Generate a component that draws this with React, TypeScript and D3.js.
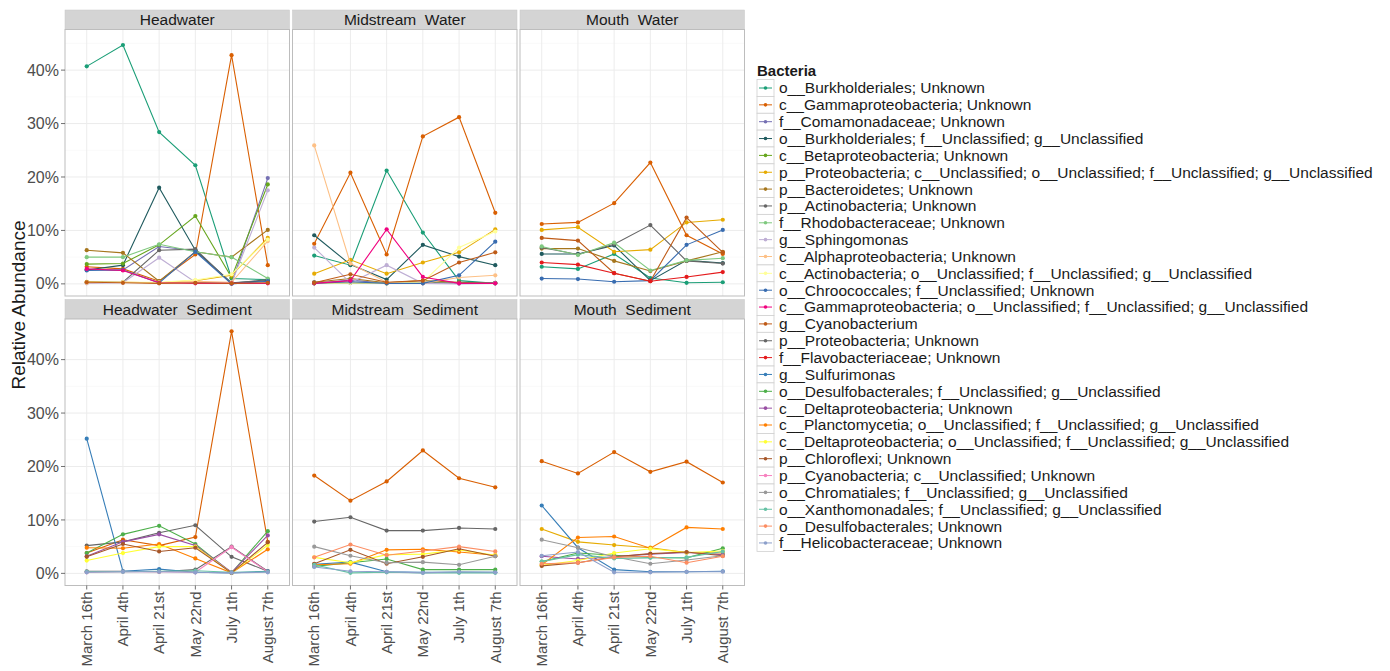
import React from "react";
import * as d3 from "d3";

const dates = ["March 16th", "April 4th", "April 21st", "May 22nd", "July 1th", "August 7th"];
const panelTitles = ["Headwater", "Midstream  Water", "Mouth  Water", "Headwater  Sediment", "Midstream  Sediment", "Mouth  Sediment"];
const yTicks = [0, 10, 20, 30, 40];

const seriesNames = [
  "o__Burkholderiales; Unknown",
  "c__Gammaproteobacteria; Unknown",
  "f__Comamonadaceae; Unknown",
  "o__Burkholderiales; f__Unclassified; g__Unclassified",
  "c__Betaproteobacteria; Unknown",
  "p__Proteobacteria; c__Unclassified; o__Unclassified; f__Unclassified; g__Unclassified",
  "p__Bacteroidetes; Unknown",
  "p__Actinobacteria; Unknown",
  "f__Rhodobacteraceae; Unknown",
  "g__Sphingomonas",
  "c__Alphaproteobacteria; Unknown",
  "c__Actinobacteria; o__Unclassified; f__Unclassified; g__Unclassified",
  "o__Chroococcales; f__Unclassified; Unknown",
  "c__Gammaproteobacteria; o__Unclassified; f__Unclassified; g__Unclassified",
  "g__Cyanobacterium",
  "p__Proteobacteria; Unknown",
  "f__Flavobacteriaceae; Unknown",
  "g__Sulfurimonas",
  "o__Desulfobacterales; f__Unclassified; g__Unclassified",
  "c__Deltaproteobacteria; Unknown",
  "c__Planctomycetia; o__Unclassified; f__Unclassified; g__Unclassified",
  "c__Deltaproteobacteria; o__Unclassified; f__Unclassified; g__Unclassified",
  "p__Chloroflexi; Unknown",
  "p__Cyanobacteria; c__Unclassified; Unknown",
  "o__Chromatiales; f__Unclassified; g__Unclassified",
  "o__Xanthomonadales; f__Unclassified; g__Unclassified",
  "o__Desulfobacterales; Unknown",
  "f__Helicobacteraceae; Unknown",
];

const seriesColors = [
  "#1b9e77", "#d95f02", "#7570b3", "#1f5a5e", "#66a61e", "#e6ab02", "#a6761d", "#666666",
  "#7fc97f", "#beaed4", "#fdc086", "#ffff99", "#386cb0", "#f0027f", "#bf5b17", "#666666",
  "#e41a1c", "#377eb8", "#4daf4a", "#984ea3", "#ff7f00", "#ffff33", "#a65628", "#f781bf",
  "#999999", "#66c2a5", "#fc8d62", "#8da0cb",
];

// [series index, values per date] (percent)
const headwater: [number, number[]][] = [
  [0, [40.7, 44.7, 28.4, 22.2, 1.0, 0.8]],
  [1, [3.2, 2.8, 0.5, 5.5, 42.8, 3.5]],
  [2, [2.7, 2.6, 7.0, 6.2, 0.1, 19.8]],
  [3, [2.6, 3.5, 18.0, 6.3, 0.2, 0.6]],
  [4, [3.7, 3.8, 7.3, 12.7, 1.2, 18.6]],
  [5, [0.4, 0.3, 0.2, 0.6, 1.6, 8.6]],
  [6, [6.3, 5.8, 0.5, 6.0, 5.0, 10.1]],
  [7, [0.3, 0.3, 6.3, 6.5, 0.1, 0.8]],
  [8, [5.0, 5.0, 7.4, 6.0, 5.0, 1.0]],
  [9, [0.1, 0.2, 4.9, 0.3, 0.1, 17.5]],
  [10, [0.2, 0.3, 0.2, 0.5, 0.3, 8.0]],
  [11, [0.3, 0.3, 0.3, 0.7, 1.8, 8.3]],
  [12, [2.5, 2.6, 0.2, 6.0, 0.0, 0.5]],
  [13, [2.8, 2.5, 0.2, 0.1, 0.1, 0.1]],
  [14, [0.3, 0.2, 0.1, 0.2, 0.1, 0.2]],
];

const midstreamWater: [number, number[]][] = [
  [0, [5.3, 3.5, 21.2, 9.6, 0.6, 0.1]],
  [1, [7.5, 20.8, 5.5, 27.6, 31.2, 13.3]],
  [2, [0.1, 0.7, 0.1, 0.1, 0.1, 0.1]],
  [3, [9.1, 3.6, 0.8, 7.3, 5.1, 3.5]],
  [4, [0.1, 0.2, 0.1, 0.2, 0.1, 0.2]],
  [5, [1.9, 4.5, 1.9, 4.0, 5.9, 10.2]],
  [6, [0.3, 1.0, 0.2, 0.6, 0.3, 0.1]],
  [7, [0.3, 0.2, 0.1, 0.2, 0.1, 0.2]],
  [9, [6.8, 0.2, 3.5, 0.1, 0.0, 0.1]],
  [10, [25.9, 3.8, 0.3, 0.1, 1.2, 1.6]],
  [11, [0.1, 0.2, 0.1, 0.3, 6.8, 9.8]],
  [12, [0.1, 0.4, 0.1, 0.1, 1.6, 7.9]],
  [13, [0.1, 0.6, 10.2, 1.3, 0.1, 0.1]],
  [14, [0.2, 1.8, 0.3, 0.6, 4.0, 5.9]],
];

const mouthWater: [number, number[]][] = [
  [0, [3.2, 2.8, 5.6, 1.1, 0.2, 0.3]],
  [1, [11.2, 11.5, 15.1, 22.7, 9.1, 5.6]],
  [3, [5.6, 5.6, 7.2, 0.6, 4.4, 3.9]],
  [5, [10.1, 10.6, 6.0, 6.4, 11.5, 12.0]],
  [6, [6.6, 6.6, 4.3, 2.4, 4.3, 6.0]],
  [7, [6.8, 5.5, 7.4, 11.0, 4.3, 3.8]],
  [8, [7.0, 5.4, 7.7, 2.5, 4.4, 4.8]],
  [12, [1.0, 0.9, 0.4, 0.6, 7.3, 10.1]],
  [14, [8.6, 8.1, 2.0, 0.5, 12.4, 5.9]],
  [16, [4.0, 3.6, 2.0, 0.5, 1.3, 2.2]],
];

const headwaterSediment: [number, number[]][] = [
  [1, [3.8, 6.3, 5.2, 6.8, 45.3, 5.9]],
  [7, [0.4, 0.4, 0.3, 0.7, 5.0, 0.4]],
  [15, [5.2, 5.9, 7.6, 9.0, 3.1, 0.4]],
  [17, [25.2, 0.4, 0.8, 0.2, 0.1, 0.4]],
  [18, [3.8, 7.3, 8.9, 5.5, 0.1, 7.9]],
  [19, [3.2, 5.9, 7.3, 5.2, 0.2, 7.1]],
  [20, [4.8, 4.7, 5.5, 2.8, 0.1, 4.5]],
  [21, [2.4, 3.8, 5.0, 5.0, 0.1, 5.3]],
  [22, [3.1, 5.5, 4.1, 4.8, 0.1, 5.8]],
  [23, [0.2, 0.3, 0.3, 0.2, 4.9, 0.3]],
  [25, [0.3, 0.3, 0.4, 0.5, 0.2, 0.3]],
  [27, [0.2, 0.3, 0.3, 0.2, 0.1, 0.2]],
];

const midstreamSediment: [number, number[]][] = [
  [1, [18.3, 13.6, 17.2, 23.0, 17.8, 16.1]],
  [15, [9.7, 10.5, 8.0, 8.0, 8.5, 8.3]],
  [17, [1.7, 2.1, 0.3, 0.2, 0.2, 0.2]],
  [18, [1.3, 2.0, 2.7, 0.7, 0.7, 0.7]],
  [20, [1.6, 1.8, 4.4, 4.5, 4.0, 3.4]],
  [21, [3.0, 2.0, 3.5, 3.6, 4.4, 3.4]],
  [22, [1.8, 4.4, 1.8, 3.1, 4.6, 3.2]],
  [24, [5.0, 3.3, 2.0, 2.1, 1.6, 3.2]],
  [25, [1.6, 0.1, 0.2, 0.1, 0.1, 0.1]],
  [26, [3.0, 5.4, 3.4, 4.2, 5.0, 4.1]],
  [27, [1.2, 0.4, 0.3, 0.1, 0.3, 0.2]],
];

const mouthSediment: [number, number[]][] = [
  [1, [21.0, 18.7, 22.7, 19.0, 20.9, 17.0]],
  [5, [8.3, 5.9, 5.3, 4.8, 3.9, 3.8]],
  [17, [12.7, 4.8, 0.7, 0.3, 0.3, 0.4]],
  [18, [2.2, 3.8, 3.4, 3.0, 2.9, 4.7]],
  [19, [3.2, 2.7, 3.1, 3.6, 3.9, 3.5]],
  [20, [1.6, 6.7, 6.9, 4.7, 8.6, 8.3]],
  [21, [1.5, 2.4, 3.8, 4.6, 3.9, 4.2]],
  [22, [1.4, 2.0, 3.1, 3.7, 4.0, 3.3]],
  [24, [6.3, 4.8, 3.1, 1.8, 2.5, 3.3]],
  [25, [2.2, 3.5, 2.8, 2.9, 3.0, 4.1]],
  [26, [1.8, 2.0, 3.0, 3.2, 2.0, 3.2]],
  [27, [3.3, 4.0, 0.2, 0.2, 0.3, 0.3]],
];

const panelData = [headwater, midstreamWater, mouthWater, headwaterSediment, midstreamSediment, mouthSediment];

const FONT = "'Liberation Sans', Arial, Helvetica, sans-serif";

export default function App() {
  const W = 1390, H = 671;
  const colX = [65, 292.5, 520];
  const panelW = 224.5;
  const rowStripTop = [10, 299.5];
  const stripH = 19.5;
  const panelH = 266.5;

  const x = d3.scalePoint<string>().domain(dates).range([0, panelW]).padding(0.6);
  const y = d3.scaleLinear().domain([-2.27, 47.6]).range([panelH, 0]);
  const minorTicks = [5, 15, 25, 35, 45];

  const line = d3
    .line<[number, number]>()
    .x((d) => (x(dates[d[0]]) as number))
    .y((d) => y(d[1]));

  const legendTop = 88;
  const legendStep = 16.85;

  return (
    <svg width={W} height={H} style={{ position: "absolute", left: 0, top: 0, background: "#fff" }} fontFamily={FONT}>
      <rect x={0} y={0} width={W} height={H} fill="#fff" />
      {panelData.map((rows, pi) => {
        const col = pi % 3;
        const row = Math.floor(pi / 3);
        const px = colX[col];
        const sy = rowStripTop[row];
        const py = sy + stripH;
        return (
          <g key={pi}>
            <rect x={px} y={sy} width={panelW} height={stripH} fill="#d4d4d4" stroke="#c8c8c8" strokeWidth={0.5} />
            <text x={px + panelW / 2} y={sy + stripH / 2 + 5.5} textAnchor="middle" fontSize={15.5} fill="#1a1a1a" style={{ whiteSpace: "pre" }}>
              {panelTitles[pi]}
            </text>
            <g transform={`translate(${px},${py})`}>
              <rect x={0} y={0} width={panelW} height={panelH} fill="#fff" />
              {minorTicks.map((t) => (
                <line key={"mi" + t} x1={0} x2={panelW} y1={y(t)} y2={y(t)} stroke="#f5f5f5" strokeWidth={0.6} />
              ))}
              {yTicks.map((t) => (
                <line key={"ma" + t} x1={0} x2={panelW} y1={y(t)} y2={y(t)} stroke="#ececec" strokeWidth={1} />
              ))}
              {dates.map((d) => (
                <line key={"v" + d} x1={x(d)} x2={x(d)} y1={0} y2={panelH} stroke="#ececec" strokeWidth={1} />
              ))}
              {rows.map(([si, vals]) => {
                const pts: [number, number][] = vals.map((v, i) => [i, v]);
                return (
                  <g key={si}>
                    <path d={line(pts) || ""} fill="none" stroke={seriesColors[si]} strokeWidth={1.1} />
                    {pts.map((p, i) => (
                      <circle key={i} cx={x(dates[p[0]])} cy={y(p[1])} r={2.1} fill={seriesColors[si]} />
                    ))}
                  </g>
                );
              })}
              <rect x={0} y={0} width={panelW} height={panelH} fill="none" stroke="#bdbdbd" strokeWidth={1} />
              {col === 0 &&
                yTicks.map((t) => (
                  <g key={"yt" + t}>
                    <line x1={-4} x2={0} y1={y(t)} y2={y(t)} stroke="#4d4d4d" strokeWidth={0.8} />
                    <text x={-6} y={y(t)} dy="0.35em" textAnchor="end" fontSize={16} fill="#4d4d4d">
                      {t}%
                    </text>
                  </g>
                ))}
              {row === 1 &&
                dates.map((d) => (
                  <g key={"xt" + d} transform={`translate(${x(d)},${panelH})`}>
                    <line y1={0} y2={4} stroke="#4d4d4d" strokeWidth={0.8} />
                    <text transform="translate(0,6) rotate(-90)" textAnchor="end" dy="0.35em" fontSize={15} fill="#4d4d4d" style={{ whiteSpace: "pre" }}>
                      {d}
                    </text>
                  </g>
                ))}
            </g>
          </g>
        );
      })}
      <text transform={`translate(25,305) rotate(-90)`} textAnchor="middle" fontSize={19} fill="#1a1a1a">
        Relative Abundance
      </text>
      <text x={757} y={76} fontSize={15} fontWeight="bold" fill="#1a1a1a">
        Bacteria
      </text>
      {seriesNames.map((name, i) => {
        const cy = legendTop + i * legendStep;
        return (
          <g key={name}>
            <rect x={757} y={cy - legendStep / 2} width={17} height={legendStep} fill="#fff" stroke="#d0d0d0" strokeWidth={0.8} />
            <line x1={759} x2={772} y1={cy} y2={cy} stroke={seriesColors[i]} strokeWidth={1} />
            <circle cx={765.5} cy={cy} r={1.8} fill={seriesColors[i]} />
            <text x={779} y={cy} dy="0.35em" fontSize={15.5} fill="#1a1a1a" style={{ whiteSpace: "pre" }}>
              {name}
            </text>
          </g>
        );
      })}
    </svg>
  );
}
